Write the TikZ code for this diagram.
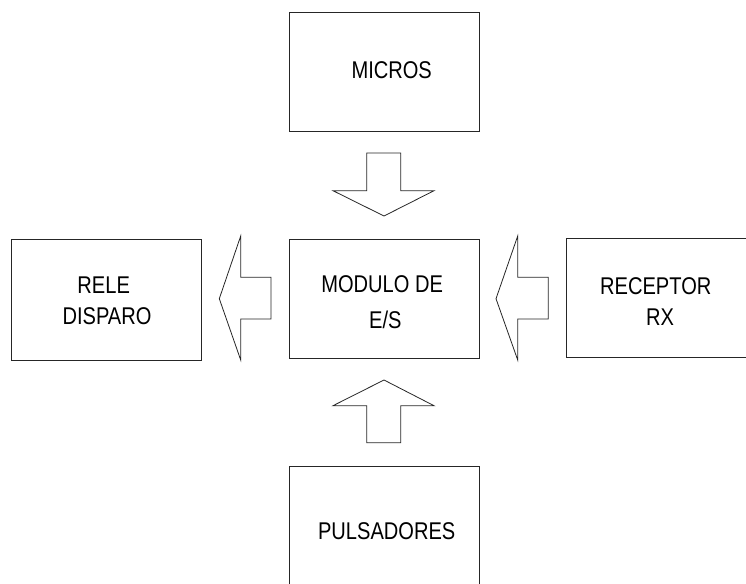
\documentclass[tikz,border=0pt]{standalone}
\usepackage{fontspec}
\setmainfont{Liberation Sans}[FakeStretch=0.83]
\begin{document}
\begin{tikzpicture}[x=1pt,y=-1pt,
  line width=0.8pt,
  blockbox/.style={draw=black!85},
  blockarrow/.style={draw=black!85, fill=white, line join=miter},
  lbl/.style={inner sep=0pt, anchor=base, font=\fontsize{24.2}{28}\selectfont}]
\useasboundingbox (0,0) rectangle (746,583);
\clip (0,0) rectangle (746,583);

% blocks
\draw[blockbox] (289,12) rectangle (479,131) coordinate (micros);
\draw[blockbox] (289,239) rectangle (479,358) coordinate (modulo);
\draw[blockbox] (11.7,239.3) rectangle (201.7,360) coordinate (rele);
\draw[blockbox] (566,238.3) rectangle (760,357.7) coordinate (receptor);
\draw[blockbox] (289,466) rectangle (479.3,600) coordinate (pulsadores);

% block labels
\node[lbl] (tmicros) at (391.7,79) {MICROS};
\node[lbl] (tmod1) at (382.2,292.3) {MODULO DE};
\node[lbl] (tmod2) at (385.3,328.3) {E/S};
\node[lbl] (trele1) at (103.7,293.3) {RELE};
\node[lbl] (trele2) at (107,324) {DISPARO};
\node[lbl] (trec1) at (655.8,294) {RECEPTOR};
\node[lbl] (trec2) at (660,325) {RX};
\node[lbl] (tpuls) at (386.7,539) {PULSADORES};

% block arrows
\draw[blockarrow] (366.7,153) -- (400.7,153) -- (400.7,190.7) -- (434,190.7)
  -- (384,216) -- (333,190.7) -- (366.7,190.7) -- cycle;
\draw[blockarrow] (384,380) -- (434,405.7) -- (400.7,405.7) -- (400.7,442.7)
  -- (366.7,442.7) -- (366.7,405.7) -- (333,405.7) -- cycle;
\draw[blockarrow] (219.3,298.7) -- (240.7,236) -- (240.7,277.3) -- (271,277.3)
  -- (271,319) -- (240.7,319) -- (240.7,360) -- cycle;
\draw[blockarrow] (496,298.7) -- (517.7,236) -- (517.7,277.3) -- (548.3,277.3)
  -- (548.3,319) -- (517.7,319) -- (517.7,360) -- cycle;
\end{tikzpicture}
\end{document}
